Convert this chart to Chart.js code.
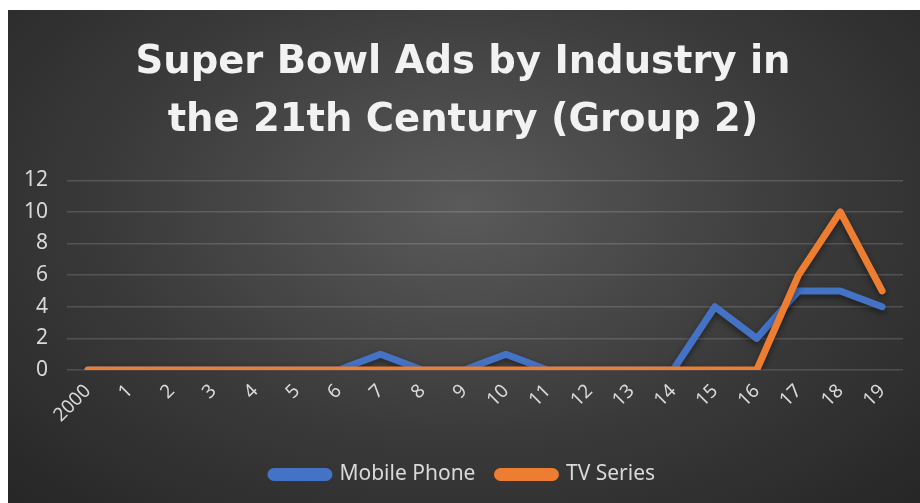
<!DOCTYPE html>
<html>
<head>
<meta charset="utf-8">
<script src="https://cdn.jsdelivr.net/npm/chart.js@4"></script>
<style>
  html, body { margin: 0; padding: 0; background: #fff; }
  #box {
    position: absolute; left: 8px; top: 10px; width: 912px; height: 493px;
    background: radial-gradient(ellipse farthest-corner at 50% 40%, #5a5a5a 0%, #3a3a3a 55%, #262626 100%);
  }
</style>
</head>
<body>
<div id="box"><canvas id="grafica" width="912" height="493"></canvas></div>
<script>
// datos
const years = ['2000', '1', '2', '3', '4', '5', '6', '7', '8', '9', '10',
               '11', '12', '13', '14', '15', '16', '17', '18', '19'];
const mobilePhone = [0, 0, 0, 0, 0, 0, 0, 1, 0, 0, 1, 0, 0, 0, 0, 4, 2, 5, 5, 4];
const tvSeries    = [0, 0, 0, 0, 0, 0, 0, 0, 0, 0, 0, 0, 0, 0, 0, 0, 0, 6, 10, 5];
const yTicks = [0, 2, 4, 6, 8, 10, 12];

const textColor = '#d9d9d9';

// sombra suave bajo las lineas
const lineShadow = {
    id: 'lineShadow',
    beforeDatasetsDraw(chart) {
        chart.ctx.save();
        chart.ctx.shadowColor = 'rgba(0,0,0,0.45)';
        chart.ctx.shadowBlur = 6;
        chart.ctx.shadowOffsetY = 3;
    },
    afterDatasetsDraw(chart) {
        chart.ctx.restore();
    }
};

new Chart(document.getElementById('grafica').getContext('2d'), {
    type: 'line',
    data: {
        labels: years,
        datasets: [
            {
                label: 'Mobile Phone',
                data: mobilePhone,
                order: 2, // debajo de la naranja
                borderColor: '#4472c4',
                backgroundColor: '#4472c4',
                borderWidth: 7,
                borderJoinStyle: 'round',
                borderCapStyle: 'round',
                pointRadius: 0,
                tension: 0
            },
            {
                label: 'TV Series',
                data: tvSeries,
                order: 1,
                borderColor: '#ed7d31',
                backgroundColor: '#ed7d31',
                borderWidth: 7,
                borderJoinStyle: 'round',
                borderCapStyle: 'round',
                pointRadius: 0,
                tension: 0
            }
        ]
    },
    options: {
        responsive: false,
        animation: false,
        layout: { padding: { left: 15, right: 17, top: 0, bottom: 8 } },
        plugins: {
            title: {
                display: true,
                text: ['Super Bowl Ads by Industry in', 'the 21th Century (Group 2)'],
                color: '#f2f2f2',
                font: { family: 'DejaVu Sans', size: 38.5, weight: 'bold', lineHeight: 1.51 },
                padding: { top: 24, bottom: 30 }
            },
            legend: {
                position: 'bottom',
                labels: {
                    color: textColor,
                    font: { family: 'Noto Sans', size: 21 },
                    boxWidth: 58,
                    boxHeight: 6,
                    useBorderRadius: true,
                    borderRadius: 3,
                    padding: 22,
                    sort: (a, b) => a.datasetIndex - b.datasetIndex
                }
            },
            tooltip: { enabled: false }
        },
        scales: {
            x: {
                offset: true,
                grid: { display: false },
                border: { display: false },
                ticks: {
                    color: textColor,
                    font: { family: 'Noto Sans', size: 19 },
                    minRotation: 45,
                    maxRotation: 45,
                    autoSkip: false,
                    padding: 2
                },
                afterFit(s) { s.height = 72; }
            },
            y: {
                min: 0,
                max: 12,
                afterBuildTicks(s) { s.ticks = yTicks.map(v => ({ value: v })); },
                grid: { color: 'rgba(255,255,255,0.15)', lineWidth: 1.5, drawTicks: false },
                border: { display: false },
                ticks: {
                    color: textColor,
                    font: { family: 'Noto Sans', size: 21 },
                    padding: 19
                },
                afterFit(s) { s.width = 44; }
            }
        }
    },
    plugins: [lineShadow]
});
</script>
</body>
</html>
